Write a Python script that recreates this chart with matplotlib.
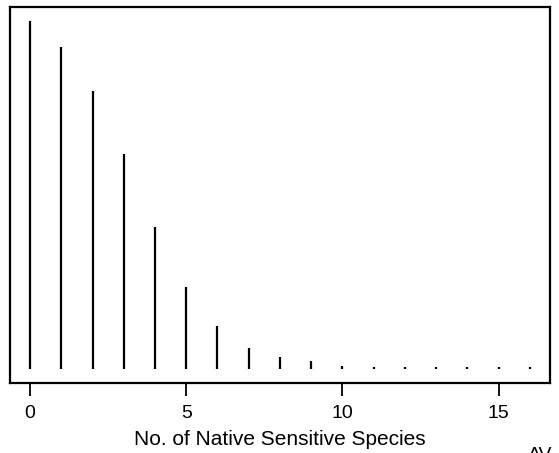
import matplotlib
matplotlib.use("Agg")
import matplotlib.pyplot as plt

# Number of native sensitive species and relative frequency
species_count = list(range(17))
frequency = [349.4, 323.0, 278.7, 215.7, 142.7, 82.7, 43.0, 20.7, 11.7, 8.0,
             3.5, 1.8, 1.8, 1.8, 1.8, 1.8, 1.8]
xticks = [0, 5, 10, 15]
xlabel = "No. of Native Sensitive Species"
corner_text = "AV"

plt.rcParams['font.family'] = ['Liberation Sans', 'DejaVu Sans']

W, H = 559, 453
fig = plt.figure(figsize=(W / 100, H / 100), dpi=100)
ax = fig.add_axes([10 / W, (H - 383) / H, 540 / W, 376 / H])

ax.vlines(species_count, 0, frequency, colors='black', linewidth=1.6)

ymax = max(frequency)
ax.set_ylim(-0.04 * ymax, 1.04 * ymax)
ax.set_xlim(-0.64, 16.64)
ax.set_yticks([])
ax.set_xticks(xticks)
ax.set_xticklabels([str(t) for t in xticks], fontsize=14)
ax.tick_params(axis='x', direction='out', length=9, width=1.3, pad=7)
for s in ax.spines.values():
    s.set_linewidth(1.6)
ax.set_xlabel(xlabel, fontsize=15, labelpad=5.5)

fig.text(528 / W, 1 - 447 / H, corner_text, fontsize=14, ha='left', va='top')

fig.savefig("out.png", dpi=100)
